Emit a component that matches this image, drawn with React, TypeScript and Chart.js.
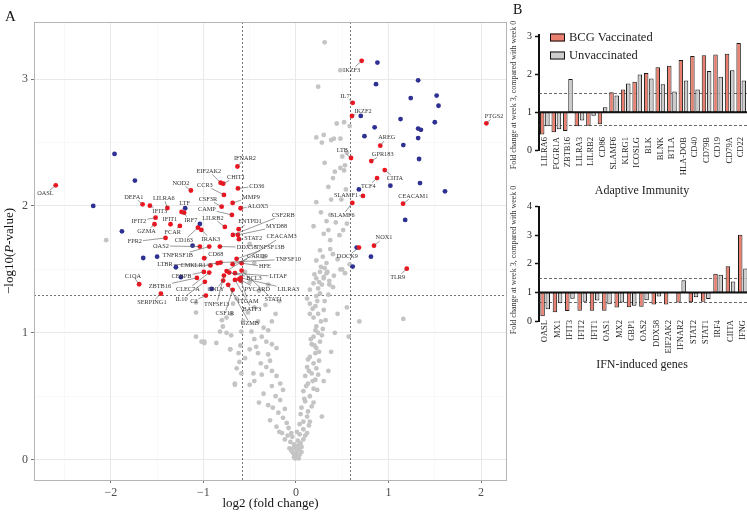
import React, { useEffect, useRef } from "react";
import { Chart, registerables } from "chart.js";
Chart.register(...registerables);

const FONT = "'Liberation Serif', 'DejaVu Serif', serif";

// ---------- Panel A: volcano ----------
const grayPoints: [number, number][] = [
  [0.31,3.29],[0.48,3.07],[0.24,2.94],[0.44,2.65],[0.52,2.66],[0.58,2.63],[0.22,2.54],[0.30,2.56],[0.28,2.50],[0.38,2.52],
  [0.41,2.53],[0.48,2.53],[0.50,2.39],[0.55,2.42],[0.31,2.34],[0.48,2.30],[0.53,2.32],[0.42,2.27],[0.52,2.28],[0.40,2.22],
  [0.35,2.15],[0.54,2.13],[0.38,2.05],[0.22,2.03],[0.49,2.05],[0.27,1.95],[0.37,1.93],[0.33,1.88],[0.19,1.84],[0.35,1.81],
  [0.30,1.78],[0.37,1.73],[0.47,1.77],[0.43,1.87],[0.55,1.86],[0.51,1.81],[0.37,1.66],[0.48,1.50],[0.50,1.50],[0.34,1.48],
  [0.30,1.43],[0.58,1.54],[0.26,1.65],[0.29,1.60],[0.40,1.62],[0.22,1.57],[0.33,1.55],[0.45,1.58],[0.27,1.52],[0.20,1.46],
  [0.41,1.45],[0.36,1.38],[0.25,1.40],[0.53,1.47],
  [0.31,1.51],[0.26,1.48],[0.33,1.47],[0.22,1.43],[0.30,1.44],[0.36,1.41],[0.19,1.39],[0.28,1.38],[0.24,1.35],[0.15,1.34],
  [0.40,1.36],[0.26,1.31],[0.22,1.29],
  [0.15,1.23],[0.21,1.21],[0.30,1.18],[0.24,1.15],[0.19,1.12],[0.27,1.09],[0.22,1.05],[0.31,1.25],[0.15,1.15],
  [-0.64,1.27],[-0.68,1.23],[-0.41,1.09],[-0.26,1.09],[-0.35,1.04],[-0.48,1.01],[-0.82,1.01],[-0.75,1.00],[-0.70,0.98],
  [-0.59,1.01],[-0.30,1.02],[-0.57,1.09],[-0.79,1.05],
  [0.21,1.02],[0.24,1.00],[0.19,0.97],[0.26,0.93],[0.17,0.91],[0.22,0.88],[0.21,0.84],[0.15,0.81],[0.25,0.85],[0.13,0.79],
  [-0.37,0.97],[-0.32,0.93],[-0.43,0.89],[-0.26,0.91],[-0.21,0.88],[-0.50,0.87],[-0.41,0.84],[-0.30,0.83],[-0.61,0.77],
  [-0.71,0.87],[-0.99,0.93],
  [0.19,0.76],[0.12,0.73],[0.22,0.72],[0.17,0.68],[0.10,0.66],[0.21,0.63],[0.13,0.60],[0.19,0.56],[0.08,0.54],[0.24,0.67],
  [-0.32,0.73],[-0.26,0.70],[-0.37,0.67],[-0.21,0.66],[-0.17,0.60],[-0.26,0.58],[-0.14,0.55],[-0.50,0.59],[-0.66,0.59],
  [-0.46,0.68],[-0.59,0.68],
  [0.15,0.50],[0.10,0.46],[0.19,0.45],[0.06,0.41],[0.13,0.38],[0.12,0.34],[0.08,0.30],[0.04,0.28],[0.15,0.30],[0.28,0.34],
  [-0.30,0.43],[-0.25,0.41],[-0.17,0.47],[-0.19,0.37],[-0.14,0.33],[-0.10,0.29],[-0.21,0.26],[-0.08,0.25],[-0.28,0.31],
  [-0.05,0.21],[0.01,0.22],[0.04,0.20],[-0.06,0.14],[-0.01,0.10],[0.03,0.08],[-0.03,0.05],[0.01,0.03],[0.04,0.04],
  [-0.05,0.07],[0.08,0.16],[0.12,0.21],[-0.15,0.21],[-0.12,0.16],[0.08,0.24],[-0.01,0.01],[0.01,0.07],[-0.07,0.09],[0.06,0.10],
  [-0.02,0.12],[0.02,0.15],[-0.04,0.18],[0.05,0.13],[-0.09,0.19],[0.10,0.19],[0.00,0.05],[-0.02,0.02],[0.03,0.01],[0.06,0.06],
  [-0.03,0.09],[0.02,0.11],
  [0.16,0.95],[0.28,0.98],[0.20,0.90],[0.14,0.70],[0.25,0.78],[0.18,0.62],[0.11,0.58],[0.23,0.55],[0.09,0.48],[0.17,0.42],
  [0.05,0.36],[0.14,0.27],[0.32,1.10],[0.18,1.19],[0.12,1.27],[0.35,1.30],[0.23,1.25],[0.29,1.03],
  [-0.45,0.95],[-0.55,0.80],[-0.38,0.76],[-0.28,0.78],[-0.45,0.62],[-0.35,0.52],[-0.22,0.50],[-0.40,0.45],[-0.12,0.40],
  [-0.18,0.22],[-0.60,0.90],[-0.86,0.92],[-0.52,1.16],[-0.45,1.20],[-0.33,1.22],[-0.22,1.15],[-0.18,1.25],[-0.40,1.33],
  [-0.50,1.40],[-0.30,1.38],[-0.55,1.48],[-0.45,1.55],[-0.35,1.60],[-0.50,1.70],
  [-2.05,1.73],[-1.08,1.24],[-1.08,1.16],[-1.08,0.97],[-1.02,0.93],[-0.99,0.92],[-0.80,1.10],[-0.75,1.12],[-0.70,1.15],
  [-0.71,0.87],[-0.66,0.60],[-0.64,0.72],[-0.62,0.84],
  [0.685,1.09],[1.16,1.11],[0.57,0.97],[0.55,1.20],[0.45,1.15],[0.42,1.00],[0.38,0.85],[0.30,0.62],[0.35,0.70],
];

const bluePoints: [number, number][] = [
  [-1.96,2.41],[-1.74,2.20],[-2.19,2.00],[-1.88,1.80],[-1.65,1.59],[-1.50,1.60],[-1.038,1.858],[-1.117,1.687],
  [-1.297,1.517],[-1.243,1.439],[-0.911,1.346],
  [0.88,3.13],[1.32,2.99],[0.865,2.96],[1.24,2.85],[1.52,2.87],[1.54,2.79],[0.70,2.71],[1.13,2.685],[1.50,2.66],
  [0.85,2.62],[1.32,2.61],[1.35,2.60],[0.74,2.55],[1.32,2.535],[1.16,2.48],[1.33,2.37],[0.68,2.13],[1.02,2.16],
  [1.34,2.18],[1.61,2.115],[1.18,1.89],[0.656,1.672],[0.81,1.60],[0.613,1.522],
];
const blueGenes: string[] = ["LTF"];
const blueFC: number[] = [-1.197];
const blueP: number[] = [1.982];
const blueLabelAt: [number, number][] = [[-1.203, 2.02]];

const redGenes: string[] = [
  "OASL","DEFA1","LILRA6","IFIT3","NOD2","EIF2AK2","CHIT1","IFNAR2","CCR3","CD36",
  "CSF3R","MMP9","ALOX5","IRF7","","CAMP","LILRB2","ENTPD1","IFIT2","GZMA",
  "IFIT1","FCAR","FPR2","OAS2","CD163","IRAK3","TNFRSF1B","DDX58","CD68","LTBR",
  "CMKLR1","CEBPB","ZBTB16","CLEC7A","IL10","C2","C1QA","SERPING1","GNLY","TNFSF13",
  "CSF1R","GZMB","ITGAM","BATF3","STAT1","PYCARD","LILRA3","BCL3","LITAF","HFE",
  "CARD9","TNFSF10","TNFSF13B","CEACAM3","STAT2","MYD88","CSF2RB",
  "IKZF3","IL7","IKZF2","PTGS2","LTB","AREG","GPR183","CIITA","TCF4","SLAMF1",
  "CEACAM1","SLAMF6","NOX1","DOCK9","TLR9",
];
const redFC: number[] = [
  -2.595,-1.657,-1.389,-1.578,-1.135,-0.814,-0.786,-0.632,-0.778,-0.627,
  -0.803,-0.684,-0.598,-1.236,-1.208,-0.692,-0.768,-0.619,-1.517,-1.528,
  -1.355,-1.254,-1.409,-1.038,-1.059,-1.022,-0.937,-0.822,-0.991,-0.924,
  -0.846,-0.995,-1.070,-0.937,-0.984,-0.973,-1.694,-1.459,-0.786,-0.778,
  -0.684,-0.732,-0.598,-0.659,-0.587,-0.613,-0.595,-0.721,-0.659,-0.587,
  -0.684,-0.814,-0.641,-0.749,-0.616,-0.627,-0.681,
  0.710,0.613,0.605,2.057,0.595,0.911,0.814,0.959,0.876,0.724,
  1.157,0.609,0.843,0.681,1.197,
];
const redP: number[] = [
  2.163,2.013,1.984,2.002,2.122,2.183,2.176,2.311,2.087,2.138,
  1.994,2.024,1.982,1.953,1.947,1.929,1.835,1.817,1.908,1.856,
  1.856,1.843,1.748,1.680,1.829,1.811,1.680,1.680,1.588,1.531,
  1.549,1.480,1.433,1.475,1.402,1.294,1.383,1.309,1.412,1.451,
  1.339,1.378,1.412,1.417,1.491,1.423,1.433,1.475,1.470,1.549,
  1.541,1.554,1.583,1.487,1.738,1.772,1.772,
  3.144,2.813,2.709,2.651,2.378,2.475,2.354,2.283,2.220,2.079,
  2.018,2.024,1.687,1.672,1.506,
];
// where each gene name sits (data units, repelled-label anchor)
const redLabelAt: [number, number][] = [
  [-2.706,2.097],[-1.751,2.071],[-1.427,2.063],[-1.47,1.961],[-1.243,2.181],[-0.941,2.276],[-0.649,2.228],[-0.551,2.378],[-0.984,2.165],[-0.422,2.157],
  [-0.951,2.055],[-0.486,2.071],[-0.411,2.0],[-1.135,1.89],[0,0],[-0.962,1.976],[-0.897,1.906],[-0.497,1.876],[-1.697,1.882],[-1.614,1.801],
  [-1.362,1.894],[-1.33,1.795],[-1.741,1.719],[-1.459,1.685],[-1.211,1.727],[-0.919,1.74],[-1.276,1.61],[-0.533,1.675],[-0.865,1.62],[-1.416,1.541],
  [-1.11,1.528],[-1.236,1.443],[-1.47,1.37],[-1.168,1.344],[-1.236,1.265],[-1.103,1.252],[-1.762,1.449],[-1.557,1.239],[-0.865,1.339],[-0.857,1.226],
  [-0.768,1.15],[-0.497,1.071],[-0.516,1.252],[-0.476,1.187],[-0.245,1.26],[-0.418,1.346],[-0.083,1.346],[-0.454,1.431],[-0.191,1.443],[-0.335,1.522],
  [-0.418,1.606],[-0.083,1.58],[-0.281,1.675],[-0.155,1.758],[-0.462,1.746],[-0.209,1.837],[-0.137,1.929],
  [0.602,3.071],[0.53,2.866],[0.724,2.748],[2.141,2.709],[0.501,2.435],[0.981,2.538],[0.937,2.409],[1.07,2.218],[0.782,2.157],[0.541,2.087],
  [1.268,2.079],[0.505,1.927],[0.951,1.75],[0.555,1.601],[1.099,1.439],
];

const fcCutoffs: number[] = [-0.585, 0.585];
const pCutoff = 1.301;

// ---------- Panel B: bar charts ----------
const adaptiveGenes: string[] = ["LILRA6","FCGR1A","ZBTB16","LILRA3","LILRB2","CD86","SLAMF6","KLRG1","ICOSLG","BLK","BLNK","BTLA","HLA-DOB","CD40","CD79B","CD19","CD79A","CD22"];
const adaptiveBCG: number[] = [0.41,0.47,0.50,0.63,0.64,0.68,1.53,1.60,1.81,2.04,2.19,2.23,2.38,2.49,2.51,2.53,2.55,2.83];
const adaptiveUnvac: number[] = [0.63,0.55,1.88,0.78,0.91,1.13,1.44,1.76,2.00,1.89,1.74,1.55,1.84,1.60,2.09,1.94,2.11,1.84];

const ifnGenes: string[] = ["OASL","MX1","IFIT3","IFIT2","IFIT1","OAS1","MX2","GBP1","OAS2","DDX58","EIF2AK2","IFNAR2","STAT2","STAT1","IRF4","CIITA","IFNG"];
const ifnBCG: number[] = [0.17,0.31,0.35,0.36,0.36,0.36,0.47,0.48,0.50,0.58,0.58,0.65,0.66,0.67,1.65,1.92,3.02];
const ifnUnvac: number[] = [0.41,0.62,0.78,0.67,0.72,0.59,0.65,0.53,0.73,0.86,0.98,1.43,0.83,0.77,1.62,1.38,1.84];

const barRefLines: number[] = [1.5, 0.667];
const seriesNames: string[] = ["BCG Vaccinated", "Unvaccinated"];

const SALMON = "#e9806f";
const GRAYBAR = "#cdcdcd";
const RED = "#f0141e";
const BLUE = "#2e3192";
const GRAY = "#c4c4c4";
const PT_R = 2.4;

function makeVolcano(canvas: HTMLCanvasElement) {
  const labels: { name: string; x: number; y: number; lx: number; ly: number }[] = [];
  redGenes.forEach((g, i) => {
    if (g) labels.push({ name: g, x: redFC[i], y: redP[i], lx: redLabelAt[i][0], ly: redLabelAt[i][1] });
  });
  blueGenes.forEach((g, i) => labels.push({ name: g, x: blueFC[i], y: blueP[i], lx: blueLabelAt[i][0], ly: blueLabelAt[i][1] }));

  const plugin = {
    id: "volcanoDeco",
    beforeDatasetsDraw(chart: any) {
      const { ctx, chartArea: a, scales } = chart;
      const x = scales.x, y = scales.y;
      ctx.save();
      ctx.strokeStyle = "#3a3a3a";
      ctx.lineWidth = 0.7;
      ctx.setLineDash([2, 2]);
      for (const v of fcCutoffs) {
        const px = Math.round(x.getPixelForValue(v)) + 0.5;
        ctx.beginPath(); ctx.moveTo(px, a.top); ctx.lineTo(px, a.bottom); ctx.stroke();
      }
      const py = Math.round(y.getPixelForValue(pCutoff)) + 0.5;
      ctx.beginPath(); ctx.moveTo(a.left, py); ctx.lineTo(a.right, py); ctx.stroke();
      ctx.restore();
    },
    afterDatasetsDraw(chart: any) {
      const { ctx, scales } = chart;
      const x = scales.x, y = scales.y;
      ctx.save();
      ctx.font = `6.3px ${FONT}`;
      ctx.textAlign = "center";
      ctx.textBaseline = "middle";
      for (const l of labels) {
        const px = x.getPixelForValue(l.x), py = y.getPixelForValue(l.y);
        const lx = x.getPixelForValue(l.lx), ly = y.getPixelForValue(l.ly);
        const w = ctx.measureText(l.name).width;
        const hw = w / 2 + 1, hh = 3.4;
        const dx = px - lx, dy = py - ly;
        if (Math.abs(dx) > hw + 1.5 || Math.abs(dy) > hh + 1.5) {
          const tx = dx !== 0 ? hw / Math.abs(dx) : Infinity;
          const ty = dy !== 0 ? hh / Math.abs(dy) : Infinity;
          const t = Math.min(tx, ty);
          const sx = lx + dx * t, sy = ly + dy * t;
          ctx.strokeStyle = "#555";
          ctx.lineWidth = 0.6;
          ctx.beginPath(); ctx.moveTo(sx, sy); ctx.lineTo(px, py); ctx.stroke();
        }
        ctx.fillStyle = "#333";
        ctx.fillText(l.name, lx, ly);
      }
      ctx.restore();
    },
    afterDraw(chart: any) {
      const { ctx, chartArea: a } = chart;
      ctx.save();
      ctx.strokeStyle = "#b5b5b5";
      ctx.lineWidth = 1;
      ctx.strokeRect(Math.round(a.left) + 0.5, Math.round(a.top) + 0.5, Math.round(a.right - a.left) - 1, Math.round(a.bottom - a.top));
      ctx.fillStyle = "#111";
      ctx.font = `13px ${FONT}`;
      ctx.textAlign = "center";
      ctx.textBaseline = "middle";
      ctx.fillText("log2 (fold change)", (a.left + a.right) / 2, 504);
      // y title with italic P
      ctx.translate(10, (a.top + a.bottom) / 2);
      ctx.rotate(-Math.PI / 2);
      const parts: [string, boolean][] = [["\u2212log10(", false], ["P", true], ["-value)", false]];
      let total = 0;
      const widths = parts.map(([t, it]) => {
        ctx.font = `${it ? "italic " : ""}13px ${FONT}`;
        const w = ctx.measureText(t).width; total += w; return w;
      });
      let cx = -total / 2;
      ctx.textAlign = "left";
      parts.forEach(([t, it], i) => {
        ctx.font = `${it ? "italic " : ""}13px ${FONT}`;
        ctx.fillText(t, cx, 0);
        cx += widths[i];
      });
      ctx.restore();
      ctx.save();
      ctx.fillStyle = "#111";
      ctx.font = `15px ${FONT}`;
      ctx.textAlign = "left";
      ctx.textBaseline = "alphabetic";
      ctx.fillText("A", 5, 21);
      ctx.restore();
    },
  };

  const isInt = (v: number) => Math.abs(v - Math.round(v)) < 1e-6;
  const fmt = (v: number) => (isInt(v) ? (v < 0 ? "\u2212" + Math.abs(Math.round(v)) : String(Math.round(v))) : "");

  return new Chart(canvas, {
    type: "scatter",
    data: {
      datasets: [
        { data: redFC.map((x, i) => ({ x, y: redP[i] })), pointRadius: PT_R, pointBorderWidth: 0, backgroundColor: RED, pointBackgroundColor: RED, order: 0 } as any,
        { data: [...bluePoints.map(([x, y]) => ({ x, y })), ...blueFC.map((x, i) => ({ x, y: blueP[i] }))], pointRadius: PT_R, pointBorderWidth: 0, backgroundColor: BLUE, pointBackgroundColor: BLUE, order: 1 } as any,
        { data: grayPoints.map(([x, y]) => ({ x, y })), pointRadius: PT_R, pointBorderWidth: 0, backgroundColor: GRAY, pointBackgroundColor: GRAY, order: 2 } as any,
      ],
    },
    options: {
      animation: false,
      responsive: false,
      devicePixelRatio: 1,
      layout: { padding: { top: 22, right: 13, left: 0, bottom: 0 } },
      plugins: { legend: { display: false }, tooltip: { enabled: false } },
      scales: {
        x: {
          type: "linear",
          min: -2.83,
          max: 2.28,
          afterFit: (s: any) => { s.height = 37; },
          border: { display: false },
          ticks: {
            stepSize: 0.5, includeBounds: false, autoSkip: false, maxRotation: 0,
            callback: (v: any) => fmt(Number(v)),
            font: { family: FONT, size: 12 }, color: "#4d4d4d", padding: 3,
          },
          grid: {
            color: (c: any) => (c.tick && isInt(c.tick.value) ? "#e6e6e6" : "#f3f3f3"),
            lineWidth: (c: any) => (c.tick && isInt(c.tick.value) ? 0.9 : 0.5),
            tickColor: (c: any) => (c.tick && isInt(c.tick.value) ? "#555" : "rgba(0,0,0,0)"),
            tickLength: 3,
            tickWidth: 0.8,
          },
        },
        y: {
          type: "linear",
          min: -0.16,
          max: 3.45,
          afterFit: (s: any) => { s.width = 34; },
          border: { display: false },
          ticks: {
            stepSize: 0.5, includeBounds: false, autoSkip: false,
            callback: (v: any) => fmt(Number(v)),
            font: { family: FONT, size: 12 }, color: "#4d4d4d", padding: 3,
          },
          grid: {
            color: (c: any) => (c.tick && isInt(c.tick.value) ? "#e6e6e6" : "#f3f3f3"),
            lineWidth: (c: any) => (c.tick && isInt(c.tick.value) ? 0.9 : 0.5),
            tickColor: (c: any) => (c.tick && isInt(c.tick.value) ? "#555" : "rgba(0,0,0,0)"),
            tickLength: 3,
            tickWidth: 0.8,
          },
        },
      },
    } as any,
    plugins: [plugin as any],
  });
}

type BarCfg = {
  genes: string[]; bcg: number[]; unvac: number[]; ymax: number;
  padTop: number; padBottom: number; catPct: number;
  labelTop: number; title: string; titleY: number; yTitleCY: number; legend: boolean;
};

function makeBar(canvas: HTMLCanvasElement, cfg: BarCfg) {
  const plugin = {
    id: "barDeco",
    beforeDatasetsDraw(chart: any) {
      const { ctx, chartArea: a, scales } = chart;
      ctx.save();
      ctx.strokeStyle = "#444";
      ctx.lineWidth = 0.8;
      ctx.setLineDash([3, 2]);
      for (const v of barRefLines) {
        const py = Math.round(scales.y.getPixelForValue(v)) + 0.5;
        ctx.beginPath(); ctx.moveTo(a.left, py); ctx.lineTo(a.right, py); ctx.stroke();
      }
      ctx.restore();
    },
    afterDatasetsDraw(chart: any) {
      const { ctx, chartArea: a, scales } = chart;
      ctx.save();
      ctx.strokeStyle = "#111";
      ctx.lineWidth = 2;
      const py = scales.y.getPixelForValue(1);
      ctx.beginPath(); ctx.moveTo(a.left - 1, py); ctx.lineTo(a.right, py); ctx.stroke();
      ctx.restore();
    },
    afterDraw(chart: any) {
      const { ctx, scales } = chart;
      ctx.save();
      ctx.fillStyle = "#222";
      ctx.font = `8.5px ${FONT}`;
      ctx.textAlign = "right";
      ctx.textBaseline = "middle";
      cfg.genes.forEach((g, i) => {
        const px = scales.x.getPixelForValue(i);
        ctx.save();
        ctx.translate(px, cfg.labelTop);
        ctx.rotate(-Math.PI / 2);
        ctx.fillText(g, 0, 0);
        ctx.restore();
      });
      ctx.font = `12px ${FONT}`;
      ctx.textAlign = "center";
      ctx.fillStyle = "#222";
      ctx.fillText(cfg.title, 142, cfg.titleY);
      ctx.save();
      ctx.translate(14, cfg.yTitleCY);
      ctx.rotate(-Math.PI / 2);
      ctx.font = `8px ${FONT}`;
      ctx.fillStyle = "#333";
      ctx.fillText("Fold change at week 3, compared with week 0", 0, 0);
      ctx.restore();
      if (cfg.legend) {
        const fills = [SALMON, GRAYBAR];
        seriesNames.forEach((n, i) => {
          const y0 = 33.5 + i * 18;
          ctx.fillStyle = fills[i];
          ctx.fillRect(50, y0, 15, 8);
          ctx.strokeStyle = "#111";
          ctx.lineWidth = 1;
          ctx.strokeRect(50.5, y0 + 0.5, 14, 7);
          ctx.fillStyle = "#222";
          ctx.font = `12.5px ${FONT}`;
          ctx.textAlign = "left";
          ctx.fillText(n, 69, y0 + 4.5);
        });
        ctx.fillStyle = "#111";
        ctx.font = `14px ${FONT}`;
        ctx.textAlign = "left";
        ctx.textBaseline = "alphabetic";
        ctx.fillText("B", 13, 14);
      }
      ctx.restore();
    },
  };

  return new Chart(canvas, {
    type: "bar",
    data: {
      labels: cfg.genes,
      datasets: [
        { label: seriesNames[0], data: cfg.bcg.map((v) => [1, v]), backgroundColor: SALMON, borderColor: "#1a1a1a", borderWidth: 1, borderSkipped: false, categoryPercentage: cfg.catPct, barPercentage: 0.86 } as any,
        { label: seriesNames[1], data: cfg.unvac.map((v) => [1, v]), backgroundColor: GRAYBAR, borderColor: "#1a1a1a", borderWidth: 1, borderSkipped: false, categoryPercentage: cfg.catPct, barPercentage: 0.86 } as any,
      ],
    },
    options: {
      animation: false,
      responsive: false,
      devicePixelRatio: 1,
      layout: { padding: { top: cfg.padTop, bottom: cfg.padBottom, left: 0, right: 0 } },
      plugins: { legend: { display: false }, tooltip: { enabled: false } },
      scales: {
        x: { display: false, offset: true },
        y: {
          min: 0,
          max: cfg.ymax,
          afterFit: (s: any) => { s.width = 39; },
          ticks: { stepSize: 1, includeBounds: false, font: { family: FONT, size: 10 }, color: "#222", padding: 3 },
          grid: { drawOnChartArea: false, drawTicks: true, tickLength: 4, tickColor: "#111", tickWidth: 1.5 },
          border: { display: true, color: "#111", width: 2 },
        },
      },
    } as any,
    plugins: [plugin as any],
  });
}

export default function App() {
  const vRef = useRef<HTMLCanvasElement>(null);
  const tRef = useRef<HTMLCanvasElement>(null);
  const bRef = useRef<HTMLCanvasElement>(null);
  useEffect(() => {
    const charts = [
      makeVolcano(vRef.current!),
      makeBar(tRef.current!, {
        genes: adaptiveGenes, bcg: adaptiveBCG, unvac: adaptiveUnvac, ymax: 3.05,
        padTop: 34.8, padBottom: 50, catPct: 0.9, labelTop: 137,
        title: "Adaptive Immunity", titleY: 191, yTitleCY: 95, legend: true,
      }),
      makeBar(bRef.current!, {
        genes: ifnGenes, bcg: ifnBCG, unvac: ifnUnvac, ymax: 4,
        padTop: 36.7, padBottom: 196, catPct: 0.84, labelTop: 150,
        title: "IFN-induced genes", titleY: 195, yTitleCY: 90, legend: false,
      }),
    ];
    return () => charts.forEach((c) => c.destroy());
  }, []);
  return (
    <div style={{ position: "fixed", left: 0, top: 0, width: 747, height: 517, overflow: "hidden", background: "#fff" }}>
      <canvas ref={vRef} width={520} height={517} style={{ position: "absolute", left: 0, top: 0 }} />
      <canvas ref={tRef} width={247} height={200} style={{ position: "absolute", left: 500, top: 0 }} />
      <canvas ref={bRef} width={249} height={347} style={{ position: "absolute", left: 500, top: 170 }} />
    </div>
  );
}
